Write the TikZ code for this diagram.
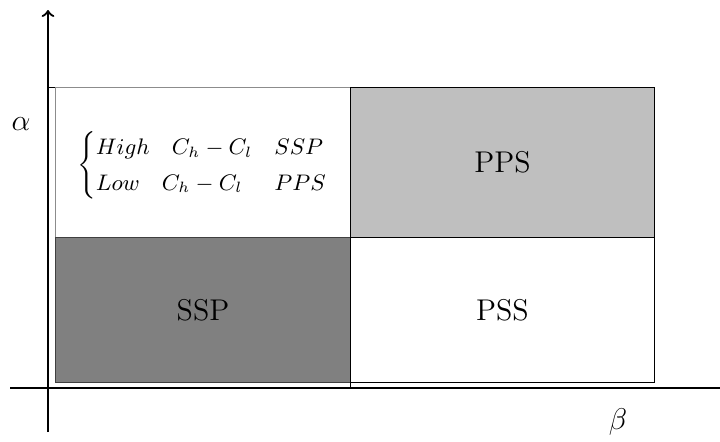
\documentclass[tikz,border=0pt]{standalone}
\usepackage{amsmath}
\begin{document}
\begin{tikzpicture}[x=0.4pt,y=-0.4pt,
  cell/.style={rectangle,inner sep=0pt,minimum width=295*0.4pt,minimum height=150*0.4pt,anchor=north west,font=\large},
  cellwide/.style={rectangle,inner sep=0pt,minimum width=304*0.4pt,anchor=north west,font=\large},
  axis/.style={line width=0.9pt}]
\useasboundingbox (0,0) rectangle (720,441);

% frame around the left column
\draw[black] (48,87) rectangle (350,388);

% the four regions
\node[cell,draw=black!45,fill=white] (hl) at (55,87) {};
\node[cell,minimum height=145*0.4pt,draw=black!75,fill=black!50] (ssp) at (55,237) {SSP};
\node[cellwide,minimum height=150*0.4pt,draw=black,fill=black!25] (pps) at (350,87) {PPS};
\node[cellwide,minimum height=145*0.4pt,draw=black,fill=white] (pss) at (350,237) {PSS};

% case distinction in the upper left region
\node[font=\fontsize{8.8}{11.7}\selectfont] (cases) at ([yshift=-3*0.4pt]hl.center) {$\begin{cases} High\quad C_h-C_l & SSP\\ Low\quad C_h-C_l & PPS\end{cases}$};

% axes
\coordinate (ybot) at (48,432);
\coordinate (ytop) at (48,10);
\coordinate (xl) at (10,388);
\coordinate (xr) at (720,388);
\draw[axis,->] (ybot) -- (ytop);
\draw[axis] (xl) -- (xr);

\node[font=\large] (alpha) at (21,124) {$\alpha$};
\node[font=\large] (beta) at (618,422) {$\beta$};
\end{tikzpicture}
\end{document}
